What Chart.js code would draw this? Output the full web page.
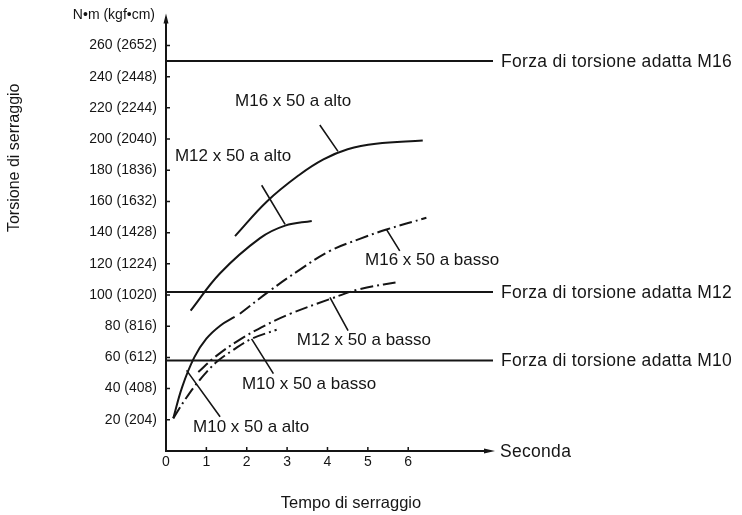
<!DOCTYPE html>
<html>
<head>
<meta charset="utf-8">
<script src="https://cdn.jsdelivr.net/npm/chart.js@4.4.1/dist/chart.umd.min.js"></script>
<style>
  html, body { margin: 0; padding: 0; background: #fff; }
  #wrap { width: 742px; height: 515px; }
</style>
</head>
<body>
<div id="wrap"><canvas id="torqueChart"></canvas></div>
<script>
// axis ranges and ticks
const xMax = 8.1;
const yMax = 278;
const xTickValues = [0, 1, 2, 3, 4, 5, 6];
const yTickValues = [20, 40, 60, 80, 100, 120, 140, 160, 180, 200, 220, 240, 260];
const yTickLabels = ['20 (204)', '40 (408)', '60 (612)', '80 (816)', '100 (1020)', '120 (1224)', '140 (1428)',
  '160 (1632)', '180 (1836)', '200 (2040)', '220 (2244)', '240 (2448)', '260 (2652)'];

// tightening curves (time s, torque N·m)
const m16AltoX = [1.71, 2.5, 3.3, 3.9, 4.5, 5.2, 6.36];
const m16AltoY = [137.8, 160, 177, 187, 193.5, 197, 199];
const m12AltoX = [0.61, 1.34, 2.33, 2.95, 3.61];
const m12AltoY = [90, 114, 136.5, 144.5, 147.5];
const m10AltoX = [0.18, 0.4, 0.7, 1.0, 1.35, 1.7];
const m10AltoY = [21, 41, 60, 72, 80.5, 86];
const m16BassoX = [1.83, 2.57, 3.3, 4.06, 4.8, 5.46, 6.45];
const m16BassoY = [88, 102.7, 116, 128.3, 136, 142, 149.5];
const m12BassoX = [0.8, 1.21, 1.79, 2.45, 3.07, 4.06, 4.8, 5.79];
const m12BassoY = [50.6, 60.2, 70.8, 80.4, 87.9, 97.4, 103.8, 108.5];
const m10BassoX = [0.18, 0.5, 0.85, 1.25, 1.65, 2.12, 2.74];
const m10BassoY = [20.9, 34, 46, 57, 64.5, 71.9, 77.7];

// suitable torque levels
const limitNames = ['Forza di torsione adatta M16', 'Forza di torsione adatta M12', 'Forza di torsione adatta M10'];
const limitValues = [250, 102, 58];

// curve captions: text, text anchor (x, y), leader from (x, y) to (x, y)
const captionTexts = ['M16 x 50 a alto', 'M12 x 50 a alto', 'M16 x 50 a basso', 'M12 x 50 a basso', 'M10 x 50 a basso', 'M10 x 50 a alto'];
const captionAt = [[1.71, 224], [0.22, 189], [4.93, 122], [3.24, 71], [1.88, 43], [0.67, 15]];
const leaderFrom = [[3.81, 209], [2.37, 170.4], [5.46, 142.1], [4.06, 98.5], [2.12, 71.9], [0.51, 51.7]];
const leaderTo = [[4.26, 192.1], [2.95, 145.3], [5.79, 128.3], [4.51, 77.2], [2.66, 49.6], [1.34, 21.9]];

const ink = '#151515';
const fontFamily = "'Liberation Sans', Arial, Helvetica, sans-serif";
const dashDot = [13, 4, 2, 4];

Chart.defaults.font.family = fontFamily;
Chart.defaults.color = ink;

function pts(xs, ys) {
  return xs.map((x, i) => ({ x, y: ys[i] }));
}

function curve(label, xs, ys, dashed) {
  return {
    label,
    data: pts(xs, ys),
    borderColor: ink,
    borderWidth: 2,
    borderDash: dashed ? dashDot : [],
    pointRadius: 0,
    tension: 0.4,
    fill: false
  };
}

const datasets = [
  curve('M16 x 50 a alto', m16AltoX, m16AltoY, false),
  curve('M12 x 50 a alto', m12AltoX, m12AltoY, false),
  curve('M10 x 50 a alto', m10AltoX, m10AltoY, false),
  curve('M16 x 50 a basso', m16BassoX, m16BassoY, true),
  curve('M12 x 50 a basso', m12BassoX, m12BassoY, true),
  curve('M10 x 50 a basso', m10BassoX, m10BassoY, true)
];
limitValues.forEach((v, i) => {
  datasets.push({
    label: limitNames[i],
    data: [{ x: 0, y: v }, { x: xMax, y: v }],
    borderColor: ink,
    borderWidth: 2,
    pointRadius: 0,
    fill: false
  });
});

const decor = {
  id: 'decor',
  afterDraw(chart) {
    const { ctx } = chart;
    const x = chart.scales.x, y = chart.scales.y;
    const x0 = x.getPixelForValue(0), y0 = y.getPixelForValue(0);
    const xEnd = x.getPixelForValue(xMax), yTop = y.getPixelForValue(yMax);

    ctx.save();
    ctx.strokeStyle = ink;
    ctx.fillStyle = ink;

    // axes with arrow heads
    ctx.lineWidth = 2;
    ctx.beginPath();
    ctx.moveTo(x0, y0 + 1);
    ctx.lineTo(x0, yTop);
    ctx.moveTo(x0 - 1, y0);
    ctx.lineTo(xEnd - 4, y0);
    ctx.stroke();
    ctx.beginPath();
    ctx.moveTo(x0, yTop - 4);
    ctx.lineTo(x0 - 2.5, yTop + 6);
    ctx.lineTo(x0 + 2.5, yTop + 6);
    ctx.closePath();
    ctx.fill();
    ctx.beginPath();
    ctx.moveTo(xEnd + 2, y0);
    ctx.lineTo(xEnd - 9, y0 - 2.5);
    ctx.lineTo(xEnd - 9, y0 + 2.5);
    ctx.closePath();
    ctx.fill();

    // tick marks inside the axes
    ctx.lineWidth = 1.5;
    ctx.beginPath();
    yTickValues.forEach(v => {
      const py = y.getPixelForValue(v);
      ctx.moveTo(x0, py);
      ctx.lineTo(x0 + 4, py);
    });
    xTickValues.filter(v => v > 0).forEach(v => {
      const px = x.getPixelForValue(v);
      ctx.moveTo(px, y0);
      ctx.lineTo(px, y0 - 4);
    });
    ctx.stroke();

    // leaders for curve captions
    ctx.lineWidth = 1.6;
    ctx.beginPath();
    leaderFrom.forEach((p, i) => {
      ctx.moveTo(x.getPixelForValue(p[0]), y.getPixelForValue(p[1]));
      ctx.lineTo(x.getPixelForValue(leaderTo[i][0]), y.getPixelForValue(leaderTo[i][1]));
    });
    ctx.stroke();

    ctx.textBaseline = 'middle';
    ctx.textAlign = 'left';
    ctx.font = '17px ' + fontFamily;
    captionTexts.forEach((t, i) => {
      ctx.fillText(t, x.getPixelForValue(captionAt[i][0]), y.getPixelForValue(captionAt[i][1]));
    });

    // labels at the right of the torque lines
    ctx.font = '17.5px ' + fontFamily;
    ctx.letterSpacing = '0.3px';
    limitNames.forEach((t, i) => {
      ctx.fillText(t, xEnd + 8, y.getPixelForValue(limitValues[i]) + 1);
    });
    ctx.fillText('Seconda', xEnd + 7, y0 + 1);
    ctx.letterSpacing = '0px';

    // unit above the y axis
    ctx.font = '14px ' + fontFamily;
    ctx.textAlign = 'right';
    ctx.fillText('N•m (kgf•cm)', x0 - 11, yTop - 2);

    // axis titles
    ctx.font = '16.5px ' + fontFamily;
    ctx.textAlign = 'center';
    ctx.fillText('Tempo di serraggio', x0 + 185, y0 + 52);
    ctx.translate(15, y.getPixelForValue(188));
    ctx.rotate(-Math.PI / 2);
    ctx.font = '16px ' + fontFamily;
    ctx.fillText('Torsione di serraggio', 0, 0);
    ctx.restore();
  }
};

const ctx = document.getElementById('torqueChart');
const torqueChart = new Chart(ctx, {
  type: 'line',
  data: { datasets },
  options: {
    responsive: true,
    maintainAspectRatio: false,
    animation: false,
    layout: { padding: { top: 16, right: 249, bottom: 0, left: 0 } },
    plugins: {
      legend: { display: false },
      tooltip: { enabled: false }
    },
    scales: {
      x: {
        type: 'linear',
        min: 0,
        max: xMax,
        afterBuildTicks: scale => { scale.ticks = xTickValues.map(v => ({ value: v })); },
        afterFit: scale => { scale.height = 64; },
        grid: { display: false, drawTicks: false },
        border: { display: false },
        ticks: { padding: 3, font: { size: 14 }, color: ink }
      },
      y: {
        type: 'linear',
        min: 0,
        max: yMax,
        afterBuildTicks: scale => { scale.ticks = yTickValues.map(v => ({ value: v })); },
        afterFit: scale => { scale.width = 166; },
        grid: { display: false, drawTicks: false },
        border: { display: false },
        ticks: {
          padding: 9,
          font: { size: 14 },
          color: ink,
          callback: value => yTickLabels[yTickValues.indexOf(value)]
        }
      }
    }
  },
  plugins: [decor]
});
</script>
</body>
</html>
